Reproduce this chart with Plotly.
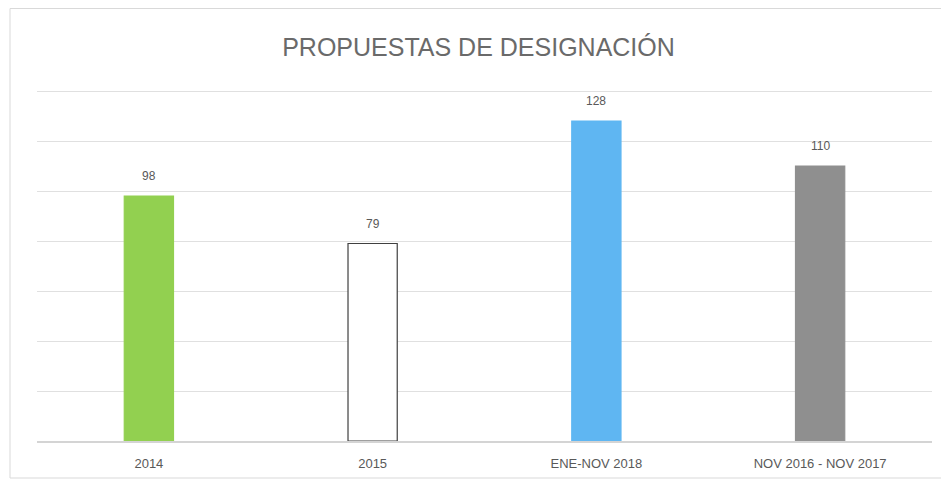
import plotly.graph_objects as go

categories = ["2014", "2015", "ENE-NOV 2018", "NOV 2016 - NOV 2017"]
values = [98, 79, 128, 110]
fill_colors = ["#92d050", "#ffffff", "#5fb6f2", "#8f8f8f"]
line_colors = ["#92d050", "#404040", "#5fb6f2", "#8f8f8f"]

# page has an 8px body margin, so the figure is sized to fit inside
W, H = 941, 479
ml, mr, mt, mb = 29, 17, 80, 46
pw = W - ml - mr
ph = H - mt - mb

fig = go.Figure()
fig.add_trace(go.Bar(
    x=categories, y=values,
    marker=dict(color=fill_colors, line=dict(color=line_colors, width=1.2)),
    cliponaxis=False, width=0.22, hoverinfo="x+y",
))

# category index positions for the value labels
for i, v in enumerate(values):
    fig.add_annotation(x=i, y=v, text=str(v), showarrow=False,
                       yanchor="middle", yshift=20,
                       font=dict(size=12, color="#595959", family="Liberation Sans"))

fig.update_layout(
    width=W, height=H,
    margin=dict(l=ml, r=mr, t=mt, b=mb),
    paper_bgcolor="white", plot_bgcolor="white",
    showlegend=False,
    title=dict(text="PROPUESTAS DE DESIGNACIÓN", x=0.5, xanchor="center",
               y=1 - 39 / H, yanchor="middle",
               font=dict(size=25, color="#6a6a6a", family="Liberation Sans")),
    xaxis=dict(type="category", range=[-0.5, len(categories) - 0.5],
               showgrid=False, showline=True, linecolor="#d4d4d4", linewidth=2,
               ticks="", ticklabelstandoff=9,
               tickfont=dict(size=13, color="#595959", family="Liberation Sans")),
    yaxis=dict(range=[0, 141.2], dtick=20, showgrid=True, gridcolor="#e0e0e0",
               gridwidth=1, showticklabels=False, zeroline=False, ticks=""),
)

fig.add_shape(type="rect", xref="paper", yref="paper",
              x0=(2 - ml) / pw, x1=(960 - ml) / pw,
              y0=(H - mb - 470) / ph, y1=(H - mb - 0.5) / ph,
              line=dict(color="#d9d9d9", width=1), fillcolor="rgba(0,0,0,0)", layer="below")

fig.write_html("out.html")
